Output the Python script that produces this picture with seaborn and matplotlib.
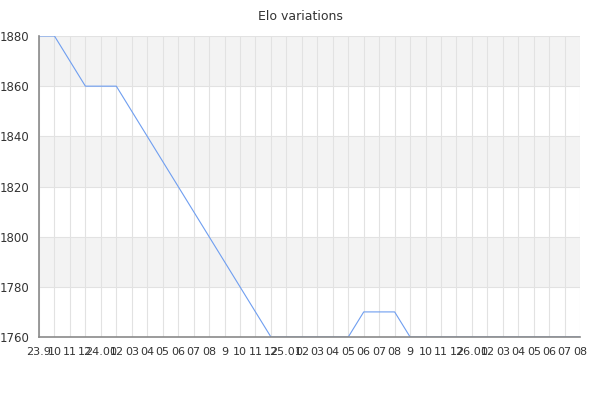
import pandas as pd
import matplotlib
matplotlib.use("Agg")
import matplotlib.pyplot as plt
import seaborn as sns
from matplotlib.ticker import MultipleLocator

# Month labels as shown on the x axis (year.month, then month only)
months = ["23.9", "10", "11", "12",
          "24.01", "02", "03", "04", "05", "06", "07", "08", "9", "10", "11", "12",
          "25.01", "02", "03", "04", "05", "06", "07", "08", "9", "10", "11", "12",
          "26.01", "02", "03", "04", "05", "06", "07", "08"]

# Elo per month
elo = [1880, 1880, 1870, 1860,
       1860, 1860, 1850, 1840, 1830, 1820, 1810, 1800, 1790, 1780, 1770, 1760,
       1760, 1760, 1760, 1760, 1760, 1770, 1770, 1770, 1760, 1760, 1760, 1760,
       1760, 1760, 1760, 1760, 1760, 1760, 1760, 1760]

y_min, y_max = 1760, 1880

df = pd.DataFrame({"idx": range(len(months)), "month": months, "elo": elo})

sns.set_style("white")
plt.rcParams["font.family"] = ["DejaVu Sans"]

fig = plt.figure(figsize=(6, 4), dpi=100)
ax = fig.add_axes([0.065, 0.1575, 0.902, 0.7525])

# alternating horizontal bands
for i, lo in enumerate(range(y_min, y_max, 20)):
    if i % 2 == 1:
        ax.axhspan(lo, lo + 20, color="#f3f3f3", zorder=0, lw=0)

sns.lineplot(data=df, x="idx", y="elo", ax=ax, color="#6f9ef0", linewidth=0.8, zorder=2)

ax.set_xlim(0, len(months) - 1)
ax.set_ylim(y_min, y_max)
ax.set_xticks(df["idx"])
ax.set_xticklabels(months)
ax.yaxis.set_major_locator(MultipleLocator(20))
ax.yaxis.set_minor_locator(MultipleLocator(10))

ax.grid(True, which="major", color="#e2e2e2", linewidth=0.8, zorder=1)
ax.set_axisbelow(True)

for side in ["top", "right"]:
    ax.spines[side].set_visible(False)
for side in ["left", "bottom"]:
    ax.spines[side].set_color("#8a8a8a")
    ax.spines[side].set_linewidth(1.2)
    ax.spines[side].set_zorder(5)

ax.tick_params(axis="x", length=0, pad=7, labelsize=8, colors="#333333")
ax.tick_params(axis="y", which="major", length=4, width=0.8, color="#8a8a8a",
               labelsize=8.5, labelcolor="#333333", pad=3)
ax.tick_params(axis="y", which="minor", length=4, width=0.8, color="#8a8a8a")

ax.set_xlabel("")
ax.set_ylabel("")
fig.suptitle("Elo variations", y=0.975, fontsize=9, color="#333333")

fig.savefig("out.png", dpi=100)
